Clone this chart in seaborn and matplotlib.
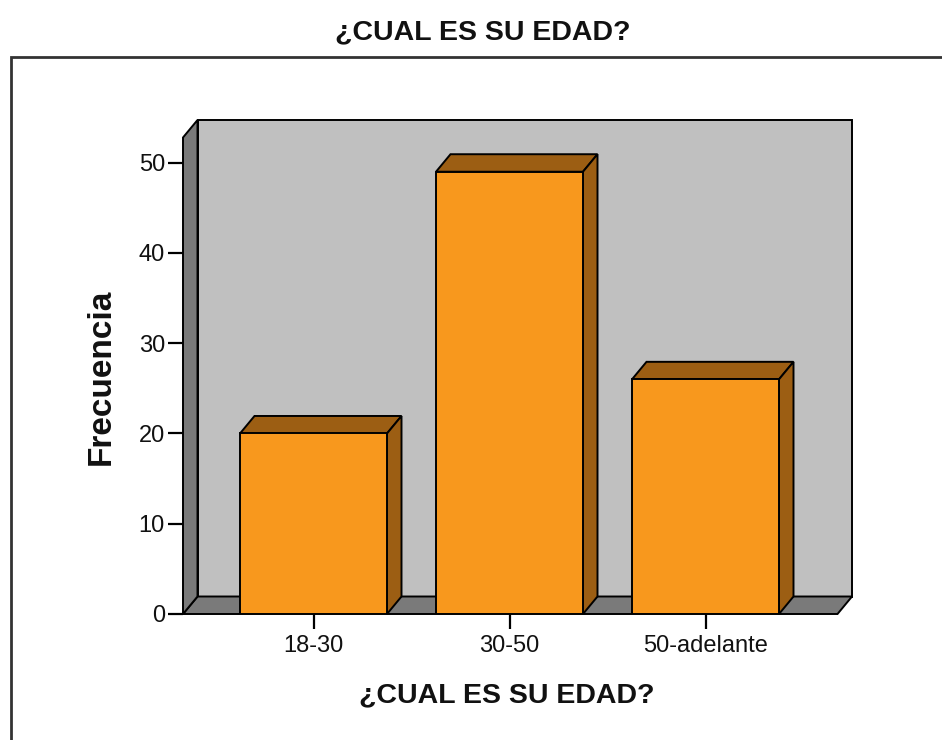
import matplotlib
matplotlib.use("Agg")
import matplotlib.pyplot as plt
from matplotlib.patches import Polygon, Rectangle
import seaborn as sns
import pandas as pd

categories = ["18-30", "30-50", "50-adelante"]
frecuencia = [20, 49, 26]
y_ticks = [0, 10, 20, 30, 40, 50]
title_text = "¿CUAL ES SU EDAD?"
x_label = "¿CUAL ES SU EDAD?"
y_label = "Frecuencia"

sns.set_style("white")
plt.rcParams["font.family"] = ["Liberation Sans", "DejaVu Sans"]

W, H = 942, 740
fig = plt.figure(figsize=(W / 100, H / 100), dpi=100)

# pixel geometry of plot box
px_left, px_right_back, px_top, px_bottom = 183, 852, 120, 614
ppu_y = (614 - 162.7) / 50.0
ppu_x = 196.0
ddx_px, ddy_px = 14.5, 17.5

ax = fig.add_axes([px_left / W, (H - px_bottom) / H,
                   (px_right_back - px_left) / W, (px_bottom - px_top) / H])

orange = "#F8981D"
brown = "#9C5E13"
wall = "#C0C0C0"
dark = "#7A7A7A"

df = pd.DataFrame({"edad": categories, "freq": frecuencia})
sns.barplot(data=df, x="edad", y="freq", color=orange, saturation=1,
            width=0.75, edgecolor="black", linewidth=1.4, ax=ax, zorder=3)

c0 = 313.5
x_lo = (px_left - c0) / ppu_x
x_hi = (px_right_back - c0) / ppu_x
y_hi = (px_bottom - px_top) / ppu_y
dx = ddx_px / ppu_x
dy = ddy_px / ppu_y
ax.set_xlim(x_lo, x_hi)
ax.set_ylim(0, y_hi)

x_front_r = x_hi - dx
y_front_top = y_hi - dy

# back wall
ax.add_patch(Polygon([(x_lo + dx, dy), (x_hi, dy), (x_hi, y_hi), (x_lo + dx, y_hi)],
                     closed=True, facecolor=wall, edgecolor="black", lw=1.4,
                     zorder=0.5, clip_on=False))
# floor
ax.add_patch(Polygon([(x_lo, 0), (x_front_r, 0), (x_hi, dy), (x_lo + dx, dy)],
                     closed=True, facecolor=dark, edgecolor="black", lw=1.4,
                     zorder=0.6, clip_on=False))
# left wall
ax.add_patch(Polygon([(x_lo, 0), (x_lo + dx, dy), (x_lo + dx, y_hi), (x_lo, y_front_top)],
                     closed=True, facecolor=dark, edgecolor="black", lw=1.4,
                     zorder=0.7, clip_on=False))

# 3D faces of bars
for p in list(ax.patches):
    if not isinstance(p, Rectangle):
        continue
    x0 = p.get_x()
    x1 = x0 + p.get_width()
    h = p.get_height()
    if h <= 0:
        continue
    ax.add_patch(Polygon([(x0, h), (x1, h), (x1 + dx, h + dy), (x0 + dx, h + dy)],
                         closed=True, facecolor=brown, edgecolor="black", lw=1.4,
                         zorder=2.9, clip_on=False))
    ax.add_patch(Polygon([(x1, 0), (x1, h), (x1 + dx, h + dy), (x1 + dx, dy)],
                         closed=True, facecolor=brown, edgecolor="black", lw=1.4,
                         zorder=2.9, clip_on=False))

for s in ax.spines.values():
    s.set_visible(False)
ax.set_facecolor("none")
ax.set_yticks(y_ticks)
ax.set_yticklabels([str(v) for v in y_ticks])
ax.tick_params(axis="both", which="both", direction="out", length=11, width=1.6,
               color="black", labelsize=17, labelcolor="#111111")
ax.tick_params(axis="y", pad=2, left=True)
ax.tick_params(axis="x", pad=4, bottom=True)
ax.set_xlabel("")
ax.set_ylabel("")
ax.grid(False)

# outer frame
fig.add_artist(Rectangle((11 / W, -0.05), 1.2, (H - 57) / H + 0.05,
                         transform=fig.transFigure, facecolor="none",
                         edgecolor="#333333", lw=2.0))

fig.text(482.5 / W, 1 - 32 / H, title_text, ha="center", va="center",
         fontsize=20.5, fontweight="bold", color="#111111")
fig.text(507 / W, 1 - 695 / H, x_label, ha="center", va="center",
         fontsize=20.5, fontweight="bold", color="#111111")
fig.text(101 / W, 1 - 377 / H, y_label, ha="center", va="center", rotation=90,
         fontsize=24, fontweight="bold", color="#111111")

fig.savefig("out.png", dpi=100, facecolor="white")
